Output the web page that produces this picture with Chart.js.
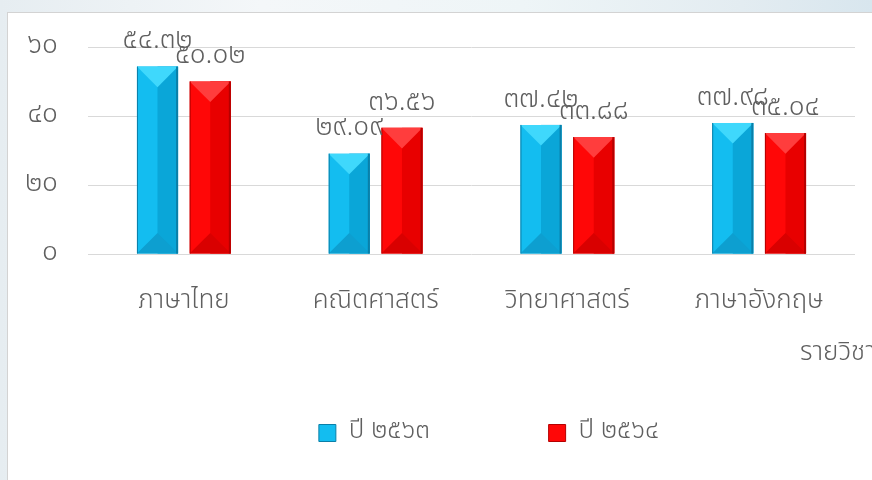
<!DOCTYPE html>
<html><head><meta charset="utf-8">
<script src="https://cdn.jsdelivr.net/npm/chart.js@4/dist/chart.umd.min.js"></script>
<style>
html,body{margin:0;padding:0;width:872px;height:480px;overflow:hidden;
 background:linear-gradient(90deg,#e6edf1 0%,#f4f7f9 30%,#eef5f7 60%,#e3ecf1 85%,#d8e6ee 100%);}
#panel{position:absolute;left:7px;top:12px;width:1000px;height:500px;background:#fff;
 border-left:1px solid #d3d3d3;border-top:1px solid #d3d3d3;}
#wrap{position:absolute;left:0;top:0;width:962px;height:467px;}
</style></head>
<body><div id="panel"><div id="wrap"><canvas id="c"></canvas></div></div>
<script>
const categories = ['ภาษาไทย', 'คณิตศาสตร์', 'วิทยาศาสตร์', 'ภาษาอังกฤษ'];
const seriesNames = ['ปี ๒๕๖๓', 'ปี ๒๕๖๔'];
const values2563 = [54.32, 29.09, 37.42, 37.98];
const values2564 = [50.02, 36.56, 33.88, 35.04];
const yTicks = [0, 20, 40, 60];
const axisTitle = 'รายวิชา';

const FONT = '"Noto Sans Thai", "Noto Sans Thai UI", "Noto Sans", "DejaVu Sans", sans-serif';
const W = '300';
const TXT = '#5f5f5f';
const thaiDigits = '๐๑๒๓๔๕๖๗๘๙';
const toThai = s => String(s).replace(/[0-9]/g, d => thaiDigits[d]);

const palettes = [
  {face:'#13bdf0', right:'#0aa6d8', top:'#3fd8fc', bottom:'#0d9fd0', edge:'#0a7fa8'},
  {face:'#ff0707', right:'#e80000', top:'#ff3d3d', bottom:'#d90000', edge:'#b50000'}
];
const GAP = '\u2003\u2003\u2003\u2003';

const bevel = {
  id: 'bevel',
  afterDatasetsDraw(chart) {
    const ctx = chart.ctx;
    chart.data.datasets.forEach((ds, di) => {
      const meta = chart.getDatasetMeta(di);
      const c = palettes[di];
      meta.data.forEach((bar, i) => {
        const p = bar.getProps(['x', 'y', 'base', 'width'], true);
        const l = p.x - p.width / 2, r = p.x + p.width / 2, h = p.base - p.y;
        const t = Math.min(p.width / 2, h / 2);
        ctx.save();
        ctx.fillStyle = c.right; ctx.fillRect(p.x, p.y, r - p.x, h);
        ctx.fillStyle = c.top; ctx.beginPath();
        ctx.moveTo(l, p.y); ctx.lineTo(r, p.y); ctx.lineTo(p.x, p.y + t); ctx.closePath(); ctx.fill();
        ctx.fillStyle = c.bottom; ctx.beginPath();
        ctx.moveTo(l, p.base); ctx.lineTo(r, p.base); ctx.lineTo(p.x, p.base - t); ctx.closePath(); ctx.fill();
        ctx.fillStyle = c.edge; ctx.fillRect(r - 2, p.y, 2, h);
        ctx.fillRect(l, p.y, 1, h);
        ctx.restore();
      });
    });
    ctx.save();
    ctx.font = W + ' 28px ' + FONT;
    ctx.fillStyle = TXT;
    ctx.textAlign = 'center';
    ctx.textBaseline = 'middle';
    chart.data.datasets.forEach((ds, di) => {
      chart.getDatasetMeta(di).data.forEach((bar, i) => {
        ctx.fillText(toThai(ds.data[i].toFixed(2)), bar.x, bar.y - 24);
      });
    });
    ctx.restore();
  },
  afterDraw(chart) {
    const ctx = chart.ctx, a = chart.chartArea;
    ctx.save();
    ctx.font = W + ' 26px ' + FONT;
    ctx.fillStyle = TXT;
    ctx.textAlign = 'left';
    ctx.textBaseline = 'middle';
    ctx.fillText(axisTitle, a.right - 55, a.bottom + 101);
    ctx.restore();
  }
};

new Chart(document.getElementById('c'), {
  type: 'bar',
  data: {
    labels: categories,
    datasets: [
      {label: seriesNames[0], data: values2563, backgroundColor: palettes[0].face},
      {label: seriesNames[1], data: values2564, backgroundColor: palettes[1].face}
    ]
  },
  plugins: [bevel],
  options: {
    responsive: true,
    maintainAspectRatio: false,
    animation: false,
    layout: {padding: {top: 34, left: 0, right: 0, bottom: 24}},
    datasets: {bar: {categoryPercentage: 0.55, barPercentage: 0.78}},
    plugins: {
      tooltip: {enabled: false},
      legend: {
        position: 'bottom',
        fullSize: true,
        labels: {
          font: {family: FONT, size: 26, weight: W},
          color: TXT,
          boxWidth: 17,
          boxHeight: 17,
          padding: 15,
          generateLabels(chart) {
            return chart.data.datasets.map((ds, i) => ({
              text: ds.label + (i === 0 ? GAP : ''),
              fillStyle: palettes[i].face,
              strokeStyle: palettes[i].edge,
              lineWidth: 1,
              hidden: false,
              datasetIndex: i,
              fontColor: TXT
            }));
          }
        }
      }
    },
    scales: {
      x: {
        grid: {display: false},
        border: {display: false},
        ticks: {font: {family: FONT, size: 26, weight: W}, color: TXT, padding: 25},
        afterFit(s) { s.height = 151; }
      },
      y: {
        min: 0, max: 60,
        grid: {color: '#d9d9d9', drawTicks: false},
        border: {display: false},
        afterBuildTicks(s) { s.ticks = yTicks.map(v => ({value: v})); },
        ticks: {font: {family: FONT, size: 28, weight: W}, color: TXT, padding: 30,
          callback: v => toThai(v)},
        afterFit(s) { s.width = 80; s.paddingTop = 0; s.paddingBottom = 0; }
      },
      pad: {
        position: 'right',
        display: true,
        grid: {display: false},
        border: {display: false},
        ticks: {display: false},
        afterFit(s) { s.width = 115; }
      }
    }
  }
});
</script>
</body></html>
